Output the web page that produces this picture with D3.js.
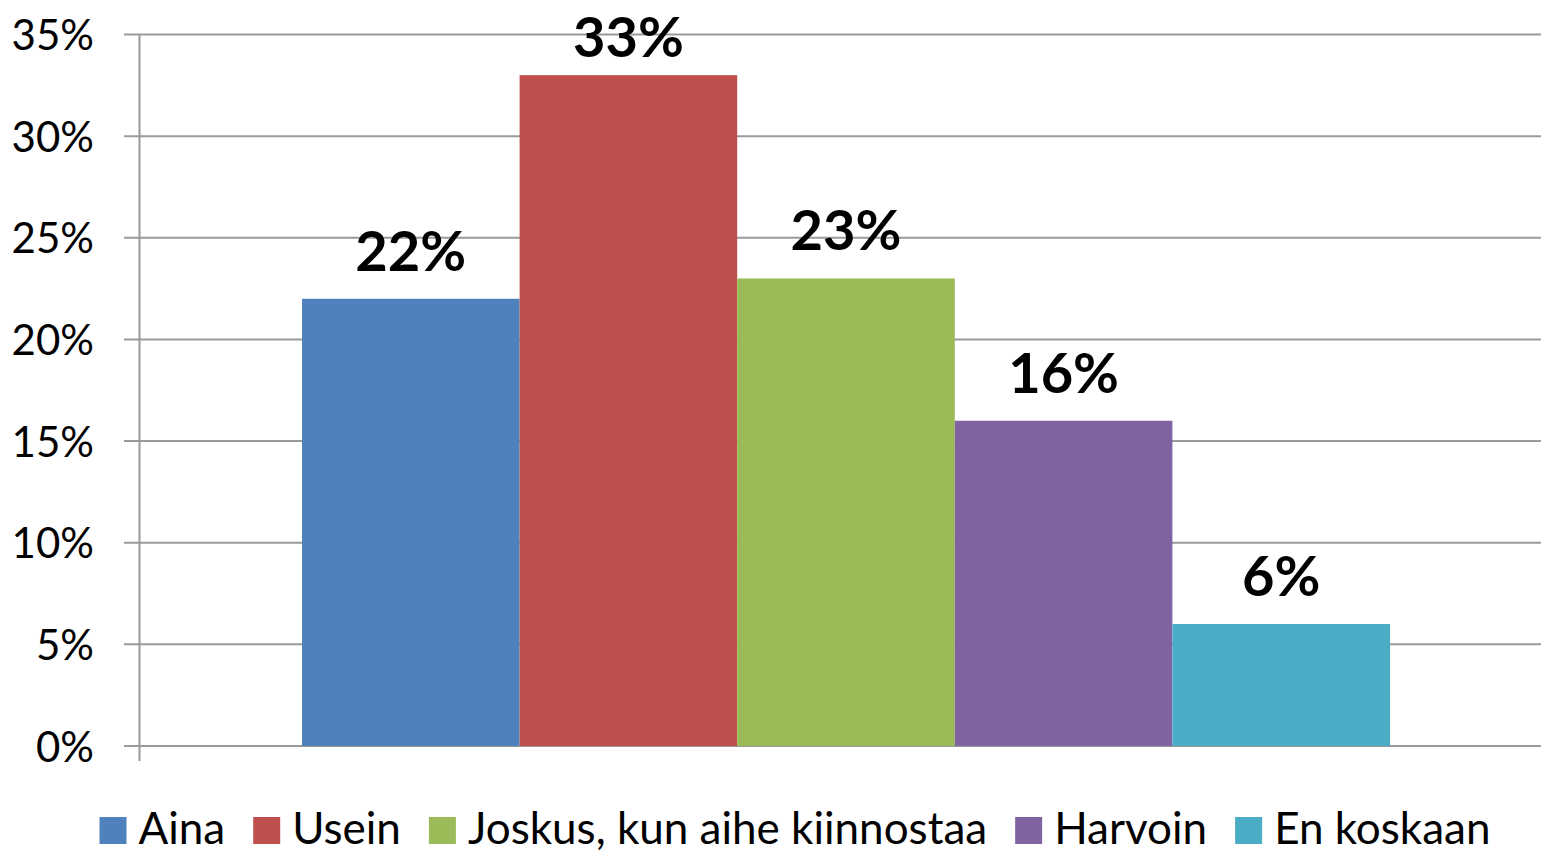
<!DOCTYPE html>
<html><head><meta charset="utf-8">
<script src="https://cdn.jsdelivr.net/npm/d3@7"></script>
<style>body{margin:0;background:#fff}svg{display:block}text{font-family:Lato,"Open Sans",sans-serif}</style>
</head><body><svg id="c" width="1541" height="850"></svg>
<script>
const series = ["Aina","Usein","Joskus, kun aihe kiinnostaa","Harvoin","En koskaan"];
const values = [0.22,0.33,0.23,0.16,0.06];
const labels = ["22%","33%","23%","16%","6%"];
const colors = ["#4F81BD","#C0504D","#9BBB59","#8064A2","#4BACC6"];
const yTicks = [0,0.05,0.10,0.15,0.20,0.25,0.30,0.35];

const svg = d3.select("#c");
const plot = {left:139.5, right:1541, top:34.5, bottom:746};
const x = d3.scaleBand().domain(series).range([302,1390]).padding(0);
const y = d3.scaleLinear().domain([0,0.35]).range([plot.bottom, plot.top]);

// gridlines
svg.append("g").selectAll("line").data(yTicks).join("line")
  .attr("x1",124).attr("x2",plot.right)
  .attr("y1",d=>y(d)).attr("y2",d=>y(d))
  .attr("stroke","#9a9a9a").attr("stroke-width",2);

// y axis labels
const yAxis = d3.axisLeft(y).tickValues(yTicks).tickFormat(d3.format(".0%")).tickSize(0).tickPadding(0);
const ga = svg.append("g").attr("transform",`translate(94,0)`).call(yAxis);
ga.select(".domain").remove();
ga.selectAll("text").attr("font-size",42).attr("fill","#000").attr("font-family","Lato,'Open Sans',sans-serif").attr("dy","0.36em");

// vertical axis line
svg.append("line").attr("x1",plot.left).attr("x2",plot.left).attr("y1",plot.top).attr("y2",761)
  .attr("stroke","#9a9a9a").attr("stroke-width",2);

// bars
svg.append("g").selectAll("rect").data(series).join("rect")
  .attr("x",d=>x(d)).attr("width",x.bandwidth())
  .attr("y",(d,i)=>y(values[i])).attr("height",(d,i)=>y(0)-y(values[i]))
  .attr("fill",(d,i)=>colors[i]);

// value labels
svg.append("g").selectAll("text").data(series).join("text")
  .attr("x",d=>x(d)+x.bandwidth()/2)
  .attr("y",(d,i)=>Math.max(y(values[i])-28, 57))
  .attr("text-anchor","middle").attr("font-weight","bold").attr("font-size",56).attr("fill","#000")
  .text((d,i)=>labels[i]);

// legend
const lg = svg.append("g");
const sq = 27, gapT = 12, gapI = 28, fs = 44;
let cx = 0;
const items = series.map((s,i)=>{
  const g = lg.append("g");
  g.append("rect").attr("x",0).attr("y",-sq).attr("width",sq).attr("height",sq).attr("fill",colors[i]);
  const t = g.append("text").attr("x",sq+gapT).attr("y",0).attr("font-size",fs).attr("fill","#000").text(s);
  const w = sq+gapT+t.node().getComputedTextLength();
  const pos = cx; cx += w + gapI;
  return {g,pos};
});
const total = cx - gapI;
const startX = 795 - total/2;
items.forEach(it=>it.g.attr("transform",`translate(${startX+it.pos},844)`));
</script></body></html>
